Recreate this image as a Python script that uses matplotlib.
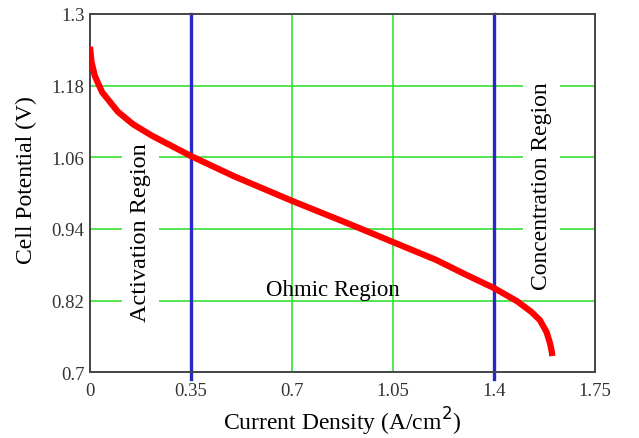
import matplotlib as mpl
mpl.use('Agg')
import matplotlib.pyplot as plt

#
#--- polarization curve
#
current_density = [0.0, 0.005, 0.017, 0.042, 0.097, 0.15, 0.215, 0.35, 0.5, 0.7,
                   0.9, 1.05, 1.2, 1.3, 1.4, 1.48, 1.53, 1.56, 1.583, 1.595, 1.601, 1.603]
cell_potential  = [1.245, 1.22, 1.196, 1.169, 1.136, 1.115, 1.096, 1.062, 1.028, 0.987,
                   0.948, 0.918, 0.888, 0.864, 0.841, 0.819, 0.801, 0.787, 0.767, 0.748, 0.734, 0.727]
region_bounds   = [0.35, 1.4]
x_ticks         = [0, 0.35, 0.7, 1.05, 1.4, 1.75]
x_tick_labels   = ['0', '0.35', '0.7', '1.05', '1.4', '1.75']
y_ticks         = [0.7, 0.82, 0.94, 1.06, 1.18, 1.3]
y_tick_labels   = ['0.7', '0.82', '0.94', '1.06', '1.18', '1.3']

mpl.rcParams['font.family'] = ['Liberation Serif', 'DejaVu Serif']

fig = plt.figure(figsize=(6.39, 4.39), dpi=100)
ax = fig.add_axes([0.1408, 0.150, 0.790, 0.816])
ax.set_xlim(0, 1.75)
ax.set_ylim(0.7, 1.3)
#
#--- grid lines
#
for xv in [0.7, 1.05]:
    ax.axvline(xv, color='#33e033', lw=1.2, zorder=1)
for yv in y_ticks[1:-1]:
    ax.axhline(yv, color='#33e033', lw=1.2, zorder=1)
#
#--- region boundaries and curve
#
for xv in region_bounds:
    ax.axvline(xv, color='#2828c8', lw=2.4, zorder=2, clip_on=False, ymin=-0.02)
ax.plot(current_density, cell_potential, color='#ff0000', lw=4.5,
        solid_capstyle='butt', solid_joinstyle='round', zorder=3)
#
#--- region labels
#
box = dict(facecolor='white', edgecolor='none', pad=6)
ax.text(0.175, 0.935, 'Activation Region', rotation=90, fontsize=17.5,
        ha='center', va='center', bbox=box, zorder=2.5)
ax.text(1.566, 1.013, 'Concentration Region', rotation=90, fontsize=17,
        ha='center', va='center', bbox=box, zorder=2.5)
ax.text(0.842, 0.839, 'Ohmic Region', fontsize=16.5, ha='center', va='center', zorder=2.5)
#
#--- axes
#
ax.set_xticks(x_ticks)
ax.set_xticklabels(x_tick_labels)
ax.set_yticks(y_ticks)
ax.set_yticklabels(y_tick_labels)
ax.tick_params(length=0, labelsize=13.5, colors='#333333')
ax.tick_params(axis='x', pad=7)
ax.tick_params(axis='y', pad=4)
for sp in ax.spines.values():
    sp.set_color('#444444')
    sp.set_linewidth(1.4)

ax.set_xlabel('Current Density (A/cm$^2$)', fontsize=17, va='center')
ax.set_ylabel('Cell Potential (V)', fontsize=17)
ax.xaxis.set_label_coords(0.5, -0.137)
ax.yaxis.set_label_coords(-0.105, 0.539)

plt.savefig('out.png', dpi=100)
plt.close('all')
